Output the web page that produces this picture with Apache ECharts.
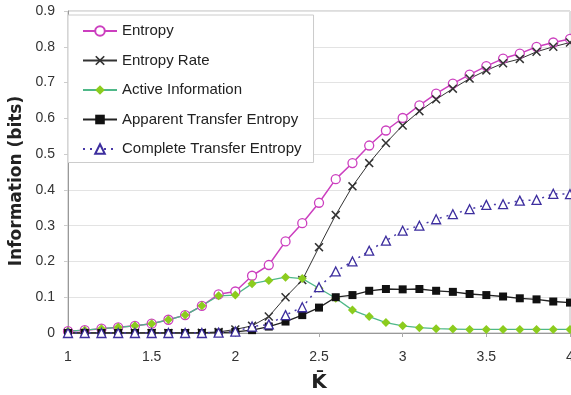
<!DOCTYPE html>
<html>
<head>
<meta charset="utf-8">
<script src="https://cdn.jsdelivr.net/npm/echarts@6/dist/echarts.min.js"></script>
<style>html,body{margin:0;padding:0;background:#fff;}#c{width:571px;height:395px;}</style>
</head>
<body>
<div id="c"></div>
<script>
const kbar = [1.0,1.1,1.2,1.3,1.4,1.5,1.6,1.7,1.8,1.9,2.0,2.1,2.2,2.3,2.4,2.5,2.6,2.7,2.8,2.9,3.0,3.1,3.2,3.3,3.4,3.5,3.6,3.7,3.8,3.9,4.0];
const entropy = [0.005,0.008,0.012,0.016,0.02,0.026,0.037,0.05,0.076,0.108,0.116,0.16,0.19,0.256,0.307,0.364,0.43,0.475,0.524,0.566,0.601,0.636,0.669,0.697,0.722,0.746,0.767,0.781,0.8,0.812,0.822];
const entropyRate = [0,0,0,0,0,0,0,0,0.001,0.003,0.01,0.02,0.046,0.1,0.148,0.24,0.33,0.41,0.475,0.531,0.58,0.62,0.653,0.683,0.711,0.734,0.754,0.766,0.786,0.8,0.812];
const activeInfo = [0.005,0.008,0.012,0.016,0.02,0.026,0.037,0.05,0.076,0.104,0.106,0.138,0.147,0.156,0.152,0.125,0.097,0.064,0.046,0.029,0.02,0.015,0.012,0.011,0.01,0.01,0.01,0.01,0.01,0.01,0.01];
const apparentTE = [0,0,0,0,0,0,0,0,0,0.001,0.003,0.008,0.018,0.032,0.05,0.071,0.1,0.106,0.118,0.123,0.122,0.123,0.118,0.115,0.109,0.106,0.102,0.097,0.094,0.088,0.085];
const completeTE = [0,0,0,0,0,0,0,0,0,0.001,0.004,0.018,0.024,0.05,0.072,0.128,0.172,0.2,0.23,0.258,0.286,0.3,0.318,0.332,0.346,0.358,0.36,0.37,0.372,0.389,0.388];
const seriesNames = ['Entropy','Entropy Rate','Active Information','Apparent Transfer Entropy','Complete Transfer Entropy'];

function pairs(ys){ return kbar.map((x,i)=>[x, ys[i]]); }
const xPath = 'path://M0,1.2L1.2,0L5,3.8L8.8,0L10,1.2L6.2,5L10,8.8L8.8,10L5,6.2L1.2,10L0,8.8L3.8,5Z';
const FONT = 'Liberation Sans, Arial, sans-serif';

const chart = echarts.init(document.getElementById('c'));
chart.setOption({
  animation:false,
  backgroundColor:'#fff',
  textStyle:{fontFamily:FONT},
  grid:{left:68,right:1,top:11,bottom:62,show:true,borderColor:'#bbb',borderWidth:1,containLabel:false,outerBoundsMode:'none'},
  legend:{
    orient:'vertical', left:68, top:15,
    data:seriesNames,
    backgroundColor:'#fff', borderColor:'#ccc', borderWidth:1,
    padding:[8.5,12,6,14], itemWidth:34, itemHeight:12, itemGap:14.5,
    textStyle:{fontSize:15,lineHeight:15,color:'#222',fontFamily:FONT}
  },
  xAxis:{
    type:'value', min:1, max:4, interval:0.5,
    name:'K\u0304', nameLocation:'middle', nameGap:40,
    nameTextStyle:{fontSize:20,fontWeight:'bold',color:'#222',fontFamily:'DejaVu Sans'},
    axisLine:{lineStyle:{color:'#999'}},
    axisTick:{show:true,length:4,lineStyle:{color:'#aaa'}},
    axisLabel:{fontSize:14,color:'#333',margin:17},
    splitLine:{show:false}
  },
  yAxis:{
    type:'value', min:0, max:0.9, interval:0.1,
    name:'Information (bits)', nameLocation:'middle', nameGap:42,
    nameTextStyle:{fontSize:17,fontWeight:'bold',color:'#222',fontFamily:'DejaVu Sans',padding:[0,18,0,0]},
    axisLine:{show:true,lineStyle:{color:'#999'}},
    axisTick:{show:true,length:4,lineStyle:{color:'#ccc'}},
    axisLabel:{fontSize:14,color:'#333',margin:13},
    splitLine:{lineStyle:{color:'#e3e3e3'}}
  },
  series:[
    {name:seriesNames[0], type:'line', data:pairs(entropy), symbol:'circle', symbolSize:9,
     lineStyle:{color:'#cc3fbf',width:1.5}, itemStyle:{color:'#fff',borderColor:'#cc3fbf',borderWidth:1.3}},
    {name:seriesNames[1], type:'line', data:pairs(entropyRate), symbol:xPath, symbolSize:9,
     lineStyle:{color:'#333',width:1}, itemStyle:{color:'#333'}},
    {name:seriesNames[2], type:'line', data:pairs(activeInfo), symbol:'diamond', symbolSize:[9,9],
     lineStyle:{color:'#4fb888',width:1.3}, itemStyle:{color:'#8ccc1e'}},
    {name:seriesNames[3], type:'line', data:pairs(apparentTE), symbol:'rect', symbolSize:8,
     lineStyle:{color:'#222',width:1.3}, itemStyle:{color:'#111'}},
    {name:seriesNames[4], type:'line', data:pairs(completeTE), symbol:'triangle', symbolSize:9,
     lineStyle:{color:'#4a3aa8',width:1.5,type:[2,5]}, itemStyle:{color:'#fff',borderColor:'#3d2e9e',borderWidth:1.3}}
  ]
});
</script>
</body>
</html>
